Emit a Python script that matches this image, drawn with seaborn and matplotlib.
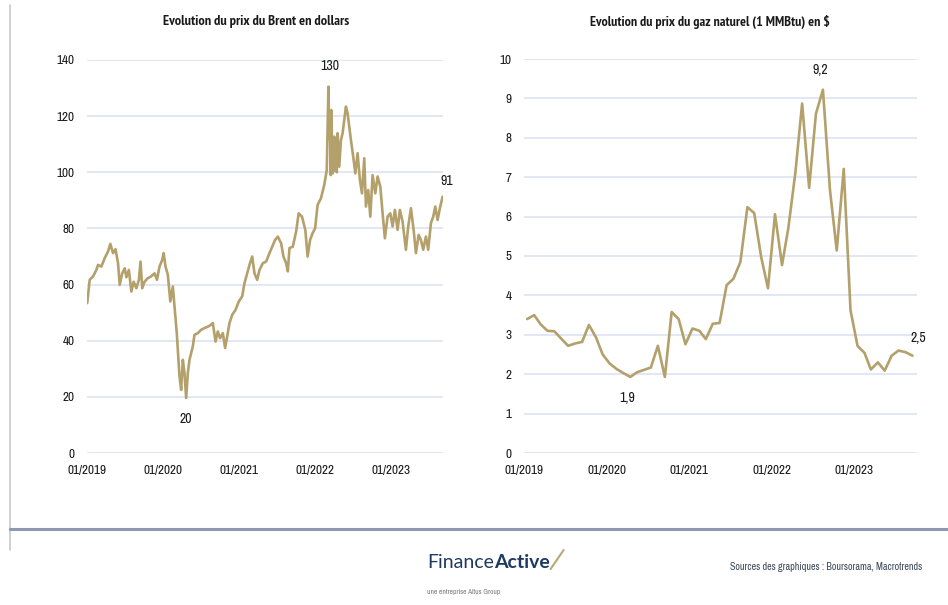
import matplotlib
matplotlib.use("Agg")
import matplotlib.pyplot as plt
from matplotlib.lines import Line2D
import seaborn as sns
import pandas as pd

# ---------------- data ----------------
brent_dates = [
    "2019-01-02", "2019-01-14", "2019-01-30", "2019-02-15", "2019-02-23", "2019-03-11", "2019-03-27",
    "2019-04-12", "2019-04-23", "2019-05-06", "2019-05-18", "2019-05-30", "2019-06-07", "2019-06-19",
    "2019-07-01", "2019-07-09", "2019-07-21", "2019-08-02", "2019-08-13", "2019-08-26", "2019-09-07",
    "2019-09-15", "2019-09-23", "2019-10-04", "2019-10-20", "2019-11-05", "2019-11-21", "2019-12-03",
    "2019-12-15", "2019-12-28", "2020-01-04", "2020-01-13", "2020-01-24", "2020-02-05", "2020-02-17",
    "2020-02-25", "2020-03-07", "2020-03-14", "2020-03-20", "2020-03-28", "2020-04-05", "2020-04-13",
    "2020-04-21", "2020-04-29", "2020-05-07", "2020-05-15", "2020-05-23", "2020-05-31", "2020-06-16",
    "2020-07-02", "2020-07-18", "2020-08-03", "2020-08-19", "2020-08-27", "2020-09-09", "2020-09-20",
    "2020-10-01", "2020-10-14", "2020-10-25", "2020-11-04", "2020-11-15", "2020-11-28", "2020-12-14",
    "2020-12-30", "2021-01-15", "2021-01-26", "2021-02-08", "2021-02-19", "2021-03-04", "2021-03-15",
    "2021-03-28", "2021-04-08", "2021-04-24", "2021-05-10", "2021-05-26", "2021-06-08", "2021-06-22",
    "2021-07-05", "2021-07-21", "2021-08-01", "2021-08-14", "2021-08-22", "2021-08-30", "2021-09-15",
    "2021-10-01", "2021-10-13", "2021-10-29", "2021-11-14", "2021-11-25", "2021-12-07", "2021-12-19",
    "2021-12-31", "2022-01-12", "2022-01-28", "2022-02-13", "2022-02-25", "2022-03-05", "2022-03-09",
    "2022-03-13", "2022-03-16", "2022-03-19", "2022-03-25", "2022-04-02", "2022-04-06", "2022-04-10",
    "2022-04-14", "2022-04-18", "2022-04-26", "2022-05-04", "2022-05-12", "2022-05-20", "2022-05-28",
    "2022-06-05", "2022-06-13", "2022-06-21", "2022-07-02", "2022-07-12", "2022-07-23", "2022-08-03",
    "2022-08-13", "2022-08-24", "2022-09-01", "2022-09-12", "2022-09-22", "2022-10-03", "2022-10-16",
    "2022-10-27", "2022-11-09", "2022-11-20", "2022-12-01", "2022-12-14", "2022-12-27", "2023-01-07",
    "2023-01-18", "2023-01-31", "2023-02-11", "2023-02-24", "2023-03-12", "2023-03-23", "2023-04-05",
    "2023-04-18", "2023-04-29", "2023-05-12", "2023-05-23", "2023-06-03", "2023-06-16", "2023-06-27",
    "2023-07-10", "2023-07-21", "2023-07-31", "2023-08-11", "2023-08-22", "2023-09-04",
]
brent_values = [
    53.4, 61.7, 62.9, 65.2, 67.0, 66.4, 69.4,
    71.8, 74.5, 71.2, 72.6, 67.6, 59.9, 64.0,
    65.8, 62.6, 65.2, 57.5, 61.0, 58.7, 61.7,
    68.2, 58.7, 61.0, 62.3, 62.9, 64.0, 61.7,
    66.4, 68.8, 71.2, 66.4, 63.5, 54.0, 59.3,
    52.2, 42.7, 34.4, 27.3, 22.5, 33.2, 28.5,
    19.6, 28.5, 33.2, 35.6, 38.0, 42.1, 42.7,
    43.9, 44.5, 45.0, 45.7, 46.3, 39.7, 43.3,
    40.9, 42.7, 37.4, 41.5, 46.3, 49.2, 51.0,
    54.0, 55.8, 60.5, 64.0, 67.0, 70.0, 64.0,
    61.7, 65.2, 67.6, 68.2, 71.2, 73.5, 75.9,
    77.1, 74.7, 70.0, 67.6, 64.7, 73.0, 73.5,
    78.9, 85.4, 84.2, 79.5, 70.0, 75.9, 78.3,
    80.0, 88.4, 90.7, 95.5, 100.8, 130.5, 112.0,
    113.9, 99.0, 122.2, 99.6, 112.7, 100.5, 107.9,
    100.0, 113.9, 102.0, 111.5, 113.9, 118.6, 123.4,
    121.0, 116.3, 111.5, 105.6, 99.6, 106.8, 97.3,
    92.5, 105.0, 87.8, 93.7, 84.2, 99.0, 92.5,
    98.5, 94.9, 85.4, 76.5, 84.2, 85.4, 80.7,
    86.6, 79.5, 86.6, 82.4, 72.4, 80.7, 87.2,
    79.5, 71.2, 77.7, 75.9, 72.4, 77.1, 72.4,
    81.9, 84.2, 87.8, 83.0, 87.2, 91.3,
]

gas_months = pd.date_range("2019-01-01", periods=57, freq="MS") + pd.Timedelta(days=14)
gas_values = [
    3.40, 3.50, 3.27, 3.10, 3.09, 2.90, 2.72, 2.78, 2.82, 3.25, 2.94, 2.50,
    2.27, 2.13, 2.03, 1.93, 2.05, 2.11, 2.17, 2.72, 1.93, 3.58, 3.40, 2.76,
    3.16, 3.10, 2.89, 3.28, 3.30, 4.26, 4.42, 4.85, 6.24, 6.09, 4.97, 4.18,
    6.06, 4.77, 5.71, 7.11, 8.87, 6.73, 8.61, 9.22, 6.68, 5.14, 7.21, 3.62,
    2.72, 2.54, 2.12, 2.30, 2.09, 2.47, 2.60, 2.56, 2.47,
]

x_ticks = ["2019-01-01", "2020-01-01", "2021-01-01", "2022-01-01", "2023-01-01"]
x_tick_labels = ["01/2019", "01/2020", "01/2021", "01/2022", "01/2023"]
brent_yticks = [0, 20, 40, 60, 80, 100, 120, 140]
gas_yticks = [0, 1, 2, 3, 4, 5, 6, 7, 8, 9, 10]

title_brent = "Evolution du prix du Brent en dollars"
title_gas = "Evolution du prix du gaz naturel (1 MMBtu) en $"
source_text = "Sources des graphiques : Boursorama, Macrotrends"

# ---------------- style ----------------
sns.set_style("white")
NARROW = ["Archivo Narrow", "DejaVu Sans"]
TITLEF = ["PT Sans Narrow", "DejaVu Sans"]
plt.rcParams["font.family"] = NARROW

LINE = "#B3A06B"
GRID = "#DCE3F4"
TXT = "#1a1a1a"

df_brent = pd.DataFrame({"date": pd.to_datetime(brent_dates), "value": brent_values})
df_gas = pd.DataFrame({"date": gas_months, "value": gas_values})

fig = plt.figure(figsize=(9.48, 6.05), dpi=100)
W, H = 948, 605


def box(x0, y0, x1, y1):
    return [x0 / W, 1 - y1 / H, (x1 - x0) / W, (y1 - y0) / H]


ax1 = fig.add_axes(box(87, 60, 443, 453))
ax2 = fig.add_axes(box(524, 59, 917, 453))

sns.lineplot(data=df_brent, x="date", y="value", ax=ax1, color=LINE, linewidth=1.9)
sns.lineplot(data=df_gas, x="date", y="value", ax=ax2, color=LINE, linewidth=1.9)


def style_axes(ax, yticks, xlim_end):
    ax.set_ylim(yticks[0], yticks[-1])
    ax.set_xlim(pd.Timestamp("2019-01-01"), pd.Timestamp(xlim_end))
    ax.set_yticks(yticks)
    ax.set_xticks(pd.to_datetime(x_ticks))
    ax.set_xticklabels(x_tick_labels)
    ax.set_xlabel("")
    ax.set_ylabel("")
    for s in ax.spines.values():
        s.set_visible(False)
    ax.yaxis.grid(True, color=GRID, linewidth=1.2)
    ax.xaxis.grid(False)
    ax.set_axisbelow(True)
    ax.tick_params(axis="y", length=0, pad=9, labelsize=9.5, labelcolor=TXT)
    ax.tick_params(axis="x", length=5, width=1, color=GRID, direction="inout",
                   pad=6, labelsize=9.5, labelcolor=TXT)


style_axes(ax1, brent_yticks, "2023-09-06")
style_axes(ax2, gas_yticks, "2023-10-05")

# titles placed over each chart
fig.text(256 / W, 1 - 22 / H, title_brent, fontsize=10.3, color=TXT, family=TITLEF,
         weight="bold", ha="center", va="center")
fig.text(710 / W, 1 - 22 / H, title_gas, fontsize=10.0, color=TXT, family=TITLEF,
         weight="bold", ha="center", va="center")


def note(ax, df, idx, txt, dx, dy):
    ax.annotate(txt, xy=(df["date"].iloc[idx], df["value"].iloc[idx]),
                xytext=(dx, dy), textcoords="offset points",
                ha="center", va="center", fontsize=10, color=TXT)


bi_max = int(df_brent["value"].idxmax())
bi_min = int(df_brent["value"].idxmin())
note(ax1, df_brent, bi_max, "130", 1, 15)
note(ax1, df_brent, bi_min, "20", 0, -15)
note(ax1, df_brent, len(df_brent) - 1, "91", 3, 11)

gi_max = int(df_gas["value"].idxmax())
gi_min = 15
note(ax2, df_gas, gi_max, "9,2", -2, 14)
note(ax2, df_gas, gi_min, "1,9", -2, -15)
note(ax2, df_gas, len(df_gas) - 1, "2,5", 4, 13)

# decorations
fig.add_artist(Line2D([9.5 / W, 9.5 / W], [1 - 5 / H, 1 - 550 / H], color="#C8C8C8", linewidth=1.2))
fig.add_artist(Line2D([9.5 / W, 1.0], [1 - 529 / H, 1 - 529 / H], color="#8D99B3", linewidth=2.2))

NAVY = "#1F3A60"
LOGOF = ["Lato", "DejaVu Sans"]
t1 = fig.text(427 / W, 1 - 568 / H, "Finance", fontsize=14, color=NAVY,
              family=LOGOF, ha="left", va="baseline")
fig.canvas.draw()
r = fig.canvas.get_renderer()
bb = t1.get_window_extent(r)
t2 = fig.text(bb.x1 / W, 1 - 568 / H, "Active", fontsize=14, color=NAVY, weight="bold",
              family=LOGOF, ha="left", va="baseline")
bb2 = t2.get_window_extent(r)
fig.add_artist(Line2D([bb2.x1 / W + 1 / W, bb2.x1 / W + 14 / W], [1 - 569 / H, 1 - 550 / H],
                      color="#B8A878", linewidth=1.5))
fig.text(427 / W, 1 - 592 / H, "une entreprise Altus Group", fontsize=5.3, color="#7A7A7A",
         family=NARROW, ha="left", va="center")
fig.text(922 / W, 1 - 567 / H, source_text, fontsize=7.3, color="#3D4A5C",
         family=NARROW, ha="right", va="center")

fig.savefig("out.png", dpi=100)
